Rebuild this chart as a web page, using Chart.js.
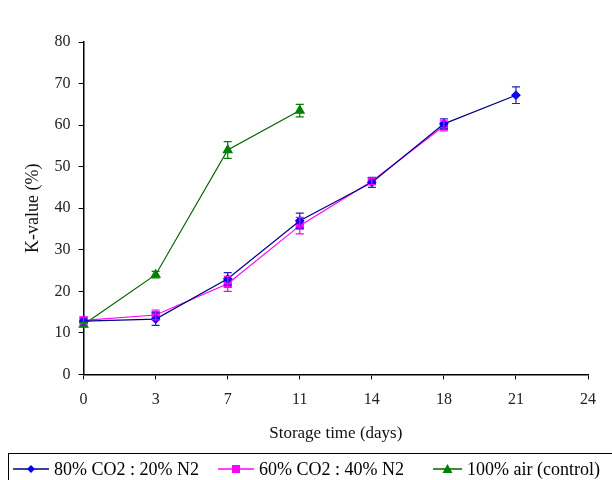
<!DOCTYPE html>
<html>
<head>
<meta charset="utf-8">
<script src="https://cdn.jsdelivr.net/npm/chart.js@4"></script>
<style>
  html, body { margin: 0; padding: 0; background: #fff; }
  #wrap { width: 612px; height: 480px; position: relative; }
</style>
</head>
<body>
<div id="wrap"><canvas id="kChart"></canvas></div>
<script>
const days = ["0", "3", "7", "11", "14", "18", "21", "24"];
const seriesNames = ["80% CO2 : 20% N2", "60% CO2 : 40% N2", "100% air (control)"];
const co2_80 = [12.8, 13.3, 23.0, 37.0, 46.2, 60.3, 67.2, null];
const co2_60 = [13.0, 14.3, 21.8, 35.8, 46.5, 59.8, null, null];
const air = [12.0, 24.0, 54.0, 63.5, null, null, null, null];
const co2_80_err = [0.5, 1.5, 1.5, 1.8, 1.2, 1.2, 2.0, null];
const co2_60_err = [0.8, 1.2, 1.8, 2.0, 0.8, 1.2, null, null];
const air_err = [0.5, 0.8, 2.0, 1.5, null, null, null, null];
const yTicks = [0, 10, 20, 30, 40, 50, 60, 70, 80];

const lineColors = ["#000080", "#ff00ff", "#006400"];
const markerColors = ["#0000ff", "#ff00ff", "#008000"];
const errColors = ["#2020c0", "#ff00ff", "#008000"];
const markerStyles = ["rectRot", "rect", "triangle"];
const markerSizes = [4, 5, 5];
const errors = [co2_80_err, co2_60_err, air_err];

// error bars, drawn from the scales
const errorBars = {
    id: 'errorBars',
    afterDatasetsDraw(chart) {
        const ctx = chart.ctx;
        const yScale = chart.scales.y;
        chart.data.datasets.forEach((ds, i) => {
            const meta = chart.getDatasetMeta(i);
            ctx.save();
            ctx.strokeStyle = errColors[i];
            ctx.lineWidth = 1.2;
            meta.data.forEach((pt, j) => {
                const v = ds.data[j];
                const e = errors[i][j];
                if (v == null || e == null) return;
                const top = yScale.getPixelForValue(v + e);
                const bot = yScale.getPixelForValue(v - e);
                ctx.beginPath();
                ctx.moveTo(pt.x, top); ctx.lineTo(pt.x, bot);
                ctx.moveTo(pt.x - 4, top); ctx.lineTo(pt.x + 4, top);
                ctx.moveTo(pt.x - 4, bot); ctx.lineTo(pt.x + 4, bot);
                ctx.stroke();
            });
            ctx.restore();
        });
    }
};

// boxed legend at the bottom
const boxLegend = {
    id: 'boxLegend',
    afterDraw(chart) {
        const ctx = chart.ctx;
        ctx.save();
        ctx.strokeStyle = "#000";
        ctx.lineWidth = 1;
        ctx.strokeRect(8.5, 453.5, 612, 30);
        ctx.font = "18px 'Liberation Serif'";
        ctx.textBaseline = "middle";
        ctx.fillStyle = "#000";
        const lineStart = [13, 218, 433];
        const textStart = [54, 259, 467];
        const y = 469;
        seriesNames.forEach((name, i) => {
            const x0 = lineStart[i];
            const x1 = textStart[i] - 5;
            ctx.strokeStyle = lineColors[i];
            ctx.lineWidth = 1.5;
            ctx.beginPath();
            ctx.moveTo(x0, y); ctx.lineTo(x1, y);
            ctx.stroke();
            ctx.fillStyle = markerColors[i];
            const cx = (x0 + x1) / 2;
            const r = markerSizes[i];
            ctx.beginPath();
            if (markerStyles[i] == "rectRot") {
                ctx.moveTo(cx, y - r); ctx.lineTo(cx + r, y); ctx.lineTo(cx, y + r); ctx.lineTo(cx - r, y);
            } else if (markerStyles[i] == "rect") {
                ctx.rect(cx - r + 1, y - r + 1, 2 * r - 2, 2 * r - 2);
            } else {
                ctx.moveTo(cx, y - r); ctx.lineTo(cx + r, y + r - 1); ctx.lineTo(cx - r, y + r - 1);
            }
            ctx.closePath();
            ctx.fill();
            ctx.fillStyle = "#000";
            ctx.fillText(name, textStart[i], y + 1);
        });
        ctx.restore();
    }
};

const allData = [co2_80, co2_60, air];

new Chart("kChart", {
    type: "line",
    data: {
        labels: days,
        datasets: seriesNames.map((name, i) => ({
            label: name,
            data: allData[i],
            borderColor: lineColors[i],
            backgroundColor: markerColors[i],
            borderWidth: 1.2,
            pointStyle: markerStyles[i],
            pointRadius: markerSizes[i],
            pointBorderColor: markerColors[i],
            pointBackgroundColor: markerColors[i],
            tension: 0,
            spanGaps: false
        }))
    },
    options: {
        responsive: true,
        maintainAspectRatio: false,
        animation: false,
        layout: { padding: { top: 42, right: 24, bottom: 32, left: 18 } },
        plugins: {
            legend: { display: false },
            tooltip: { enabled: false }
        },
        scales: {
            x: {
                type: "category",
                offset: false,
                grid: { display: true, drawOnChartArea: false, drawTicks: true, tickLength: 5, color: "#000" },
                border: { color: "#000", width: 1.5 },
                ticks: { color: "#222", font: { family: "Liberation Serif", size: 16 }, padding: 11, maxRotation: 0 },
                title: { display: true, text: "Storage time (days)", color: "#111", font: { family: "Liberation Serif", size: 17 }, padding: { top: 3 } }
            },
            y: {
                min: 0,
                max: 80,
                afterBuildTicks(axis) { axis.ticks = yTicks.map(v => ({ value: v })); },
                grid: { display: true, drawOnChartArea: false, drawTicks: true, tickLength: 5, color: "#000" },
                border: { color: "#000", width: 1.5 },
                ticks: { color: "#222", font: { family: "Liberation Serif", size: 16 }, padding: 8 },
                title: { display: true, text: "K-value (%)", color: "#111", font: { family: "Liberation Serif", size: 18 }, padding: { bottom: 3 } }
            }
        }
    },
    plugins: [errorBars, boxLegend]
});
</script>
</body>
</html>
